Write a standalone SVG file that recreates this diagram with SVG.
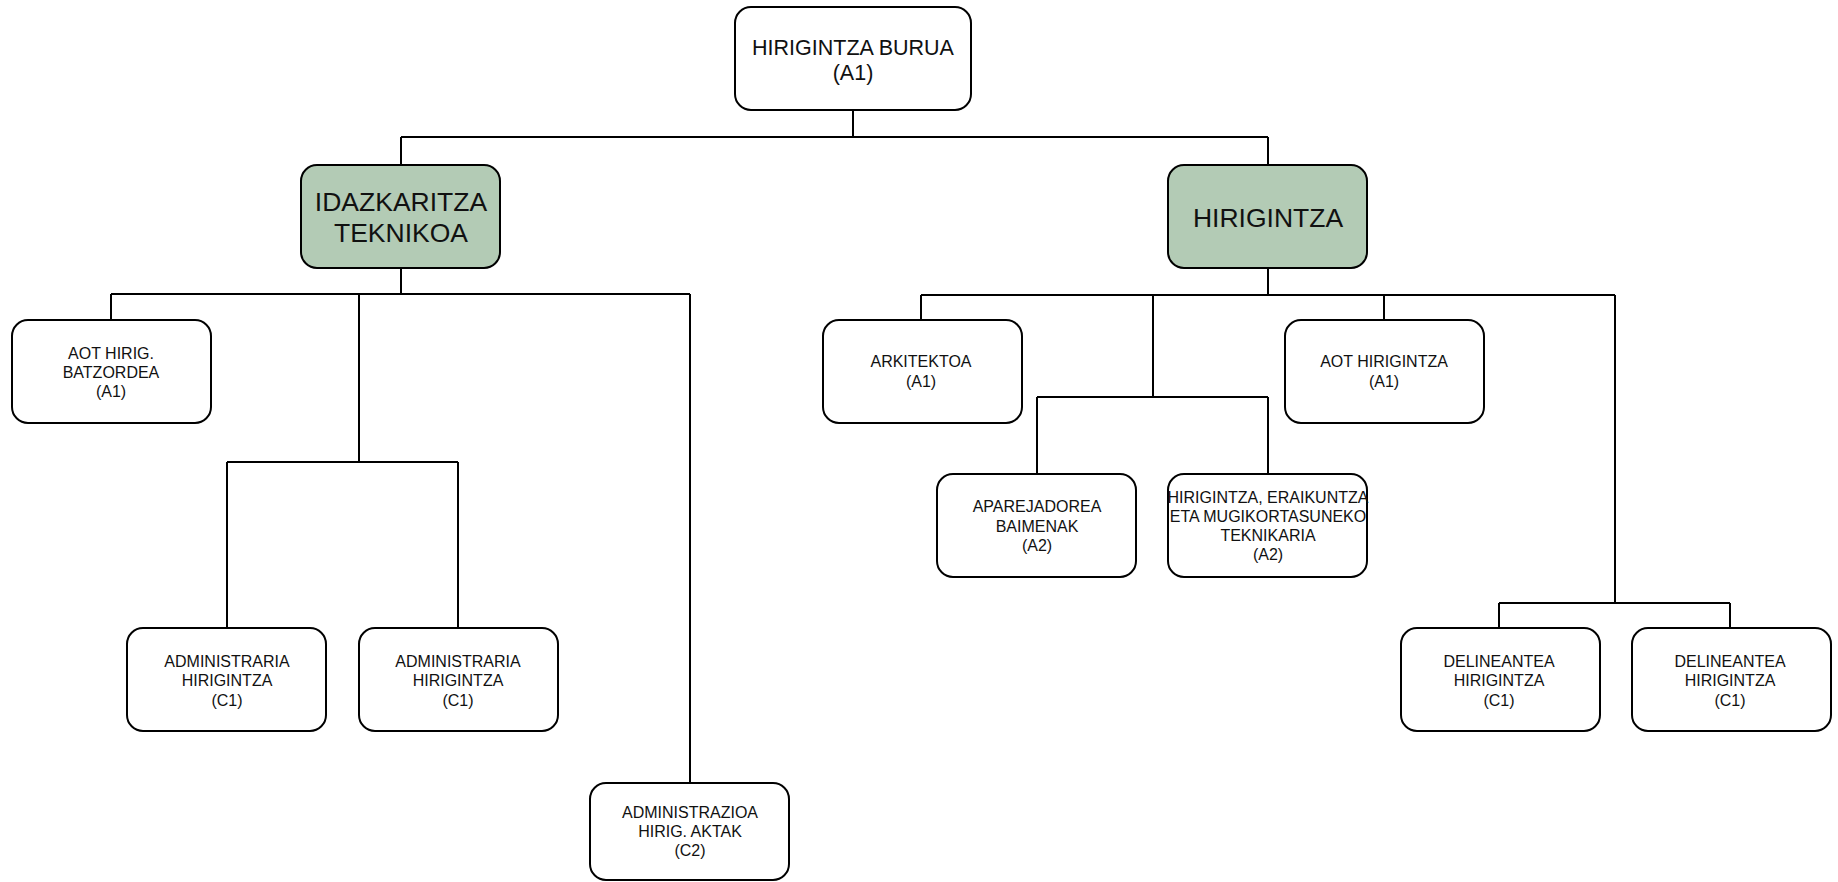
<svg xmlns="http://www.w3.org/2000/svg" width="1838" height="882" viewBox="0 0 1838 882">
<style>
.box{fill:#ffffff;stroke:#000;stroke-width:2}
.grn{fill:#b3cbb5;stroke:#000;stroke-width:2}
.t{font-family:"Liberation Sans",Arial,sans-serif;font-size:16px;fill:#111;text-anchor:middle}
.tm{font-family:"Liberation Sans",Arial,sans-serif;font-size:21.5px;fill:#111;text-anchor:middle}
.tl{font-family:"Liberation Sans",Arial,sans-serif;font-size:26.5px;fill:#111;text-anchor:middle}
.c{fill:none;stroke:#000;stroke-width:2}
</style>
<rect width="1838" height="882" fill="#fff"/>
<g id="connectors">
<path class="c" d="M853 110V137M401 137H1268M401 137V165M1268 137V165"/>
<path class="c" d="M401 268V294M111 294H690M111 294V320M359 294V462M227 462H458M227 462V628M458 462V628M690 294V783"/>
<path class="c" d="M1268 268V295M921 295H1615M921 295V320M1153 295V397M1037 397H1268M1037 397V474M1268 397V474M1384 295V320M1615 295V603M1499 603H1730M1499 603V628M1730 603V628"/>
</g>
<g id="n-burua"><rect class="box" x="735" y="7" width="236" height="103" rx="16"/><text class="tm" x="853" y="55">HIRIGINTZA BURUA</text><text class="tm" x="853" y="80">(A1)</text></g>
<g id="n-idazkaritza"><rect class="grn" x="301" y="165" width="199" height="103" rx="16"/><text class="tl" x="401" y="211">IDAZKARITZA</text><text class="tl" x="401" y="242">TEKNIKOA</text></g>
<g id="n-hirigintza"><rect class="grn" x="1168" y="165" width="199" height="103" rx="16"/><text class="tl" x="1268" y="227">HIRIGINTZA</text></g>
<g id="n-aot-batz"><rect class="box" x="12" y="320" width="199" height="103" rx="16"/><text class="t" x="111" y="359">AOT HIRIG.</text><text class="t" x="111" y="378">BATZORDEA</text><text class="t" x="111" y="397">(A1)</text></g>
<g id="n-admin1"><rect class="box" x="127" y="628" width="199" height="103" rx="16"/><text class="t" x="227" y="667">ADMINISTRARIA</text><text class="t" x="227" y="686">HIRIGINTZA</text><text class="t" x="227" y="706">(C1)</text></g>
<g id="n-admin2"><rect class="box" x="359" y="628" width="199" height="103" rx="16"/><text class="t" x="458" y="667">ADMINISTRARIA</text><text class="t" x="458" y="686">HIRIGINTZA</text><text class="t" x="458" y="706">(C1)</text></g>
<g id="n-aktak"><rect class="box" x="590" y="783" width="199" height="97" rx="16"/><text class="t" x="690" y="818">ADMINISTRAZIOA</text><text class="t" x="690" y="837">HIRIG. AKTAK</text><text class="t" x="690" y="856">(C2)</text></g>
<g id="n-arkitektoa"><rect class="box" x="823" y="320" width="199" height="103" rx="16"/><text class="t" x="921" y="367">ARKITEKTOA</text><text class="t" x="921" y="387">(A1)</text></g>
<g id="n-aot-hir"><rect class="box" x="1285" y="320" width="199" height="103" rx="16"/><text class="t" x="1384" y="367">AOT HIRIGINTZA</text><text class="t" x="1384" y="387">(A1)</text></g>
<g id="n-aparejadorea"><rect class="box" x="937" y="474" width="199" height="103" rx="16"/><text class="t" x="1037" y="512">APAREJADOREA</text><text class="t" x="1037" y="532">BAIMENAK</text><text class="t" x="1037" y="551">(A2)</text></g>
<g id="n-teknikaria"><rect class="box" x="1168" y="474" width="199" height="103" rx="16"/><text class="t" x="1268" y="503">HIRIGINTZA, ERAIKUNTZA</text><text class="t" x="1268" y="522">ETA MUGIKORTASUNEKO</text><text class="t" x="1268" y="541">TEKNIKARIA</text><text class="t" x="1268" y="560">(A2)</text></g>
<g id="n-delin1"><rect class="box" x="1401" y="628" width="199" height="103" rx="16"/><text class="t" x="1499" y="667">DELINEANTEA</text><text class="t" x="1499" y="686">HIRIGINTZA</text><text class="t" x="1499" y="706">(C1)</text></g>
<g id="n-delin2"><rect class="box" x="1632" y="628" width="199" height="103" rx="16"/><text class="t" x="1730" y="667">DELINEANTEA</text><text class="t" x="1730" y="686">HIRIGINTZA</text><text class="t" x="1730" y="706">(C1)</text></g>
</svg>
